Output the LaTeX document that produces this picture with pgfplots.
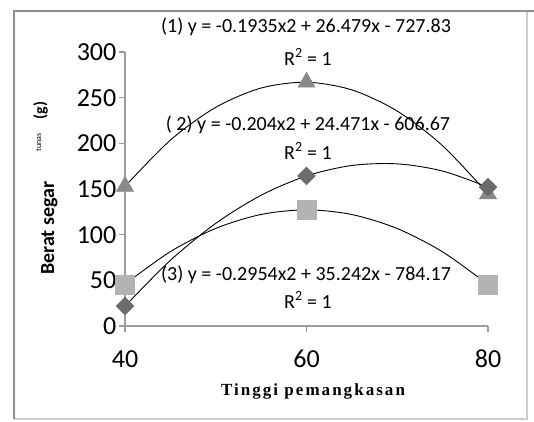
\documentclass[border=0pt]{standalone}
\usepackage{fontspec}
\setmainfont{Carlito}
\newfontfamily\xlabfont[LetterSpace=12]{Liberation Serif}
\usepackage{pgfplots}
\pgfplotsset{compat=1.18}
\definecolor{axisgray}{HTML}{9C9C9C}
\definecolor{framegray}{HTML}{8F8F8F}
\definecolor{tri}{HTML}{8A8A8A}
\definecolor{dia}{HTML}{6B6B6B}
\definecolor{sq}{HTML}{B3B3B3}
\begin{document}
\begin{tikzpicture}[x=1pt,y=1pt]
\path[use as bounding box] (0,0) rectangle (534,421);
\fill[white] (0,0) rectangle (534,421);
\draw[framegray!45, line width=1.5pt] (14,2) -- (527,2) -- (527,410);
\draw[framegray, line width=2pt] (14,2) -- (14,410) -- (534,410);
\begin{axis}[
  name=ax,
  at={(125pt,95pt)}, anchor=south west,
  scale only axis, width=363pt, height=274pt,
  xmin=40, xmax=80, ymin=0, ymax=300,
  axis x line=bottom, axis y line=left,
  axis line style={-, draw=axisgray, line width=1.5pt},
  xtick={40,60,80}, ytick={0,50,100,150,200,250,300},
  tick align=outside, major tick length=6pt,
  tick style={draw=axisgray, line width=1.2pt},
  /pgf/number format/assume math mode=true,
  ticklabel style={font=\fontsize{26}{26}\selectfont, text=black},
  xticklabel style={anchor=north, inner sep=0pt},
  xticklabel shift=18pt,
  yticklabel style={anchor=east, inner sep=0pt},
  yticklabel shift=2.5pt,
  clip=false,
]
\addplot[only marks, mark=triangle*, mark size=10pt, color=tri] coordinates {(40,152.87) (60,266.91) (80,144.63)};
\addplot[only marks, mark=square*, mark size=9.5pt, color=sq] coordinates {(40,45.77) (60,127.19) (80,45.41)};
\addplot[only marks, mark=square*, mark size=6.3pt, mark options={rotate=45}, color=dia] coordinates {(40,21.73) (60,164.31) (80,152.09)};
\addplot[black, line width=0.9pt, smooth] coordinates {(40,152.87) (45,203.54) (50,239.43) (55,260.56) (60,266.91) (65,258.50) (70,235.31) (75,197.36) (80,144.63)};
\addplot[black, line width=0.9pt, smooth] coordinates {(40,21.73) (45,71.89) (50,112.37) (55,143.18) (60,164.31) (65,175.77) (70,177.55) (75,169.66) (80,152.09)};
\addplot[black, line width=0.9pt, smooth] coordinates {(40,45.77) (45,81.43) (50,106.88) (55,122.14) (60,127.19) (65,122.05) (70,106.70) (75,81.16) (80,45.41)};
\end{axis}
\begin{scope}[every node/.style={font=\fontsize{20}{24}\selectfont, inner sep=0pt}]
\node at (306,394) {(1) y = -0.1935x2 + 26.479x - 727.83};
\node at (308,364) {R\textsuperscript{2} = 1};
\node at (308,296) {( 2) y = -0.204x2 + 24.471x - 606.67};
\node at (308,270) {R\textsuperscript{2} = 1};
\node at (306,146) {(3) y = -0.2954x2 + 35.242x - 784.17};
\node at (308,121) {R\textsuperscript{2} = 1};
\end{scope}
\node[anchor=base, inner sep=0pt] at (313,26) {\xlabfont\bfseries\fontsize{17}{17}\selectfont Tinggi pemangkasan};
\node[rotate=90, anchor=base west, inner sep=0pt] at (54,146) {\fontsize{20}{20}\selectfont\bfseries Berat segar\hspace{30pt}\raisebox{13pt}{\fontsize{8}{8}\selectfont\mdseries tunas}\hspace{14pt}\raisebox{9pt}{\fontsize{16}{16}\selectfont\bfseries (g)}};
\end{tikzpicture}
\end{document}
